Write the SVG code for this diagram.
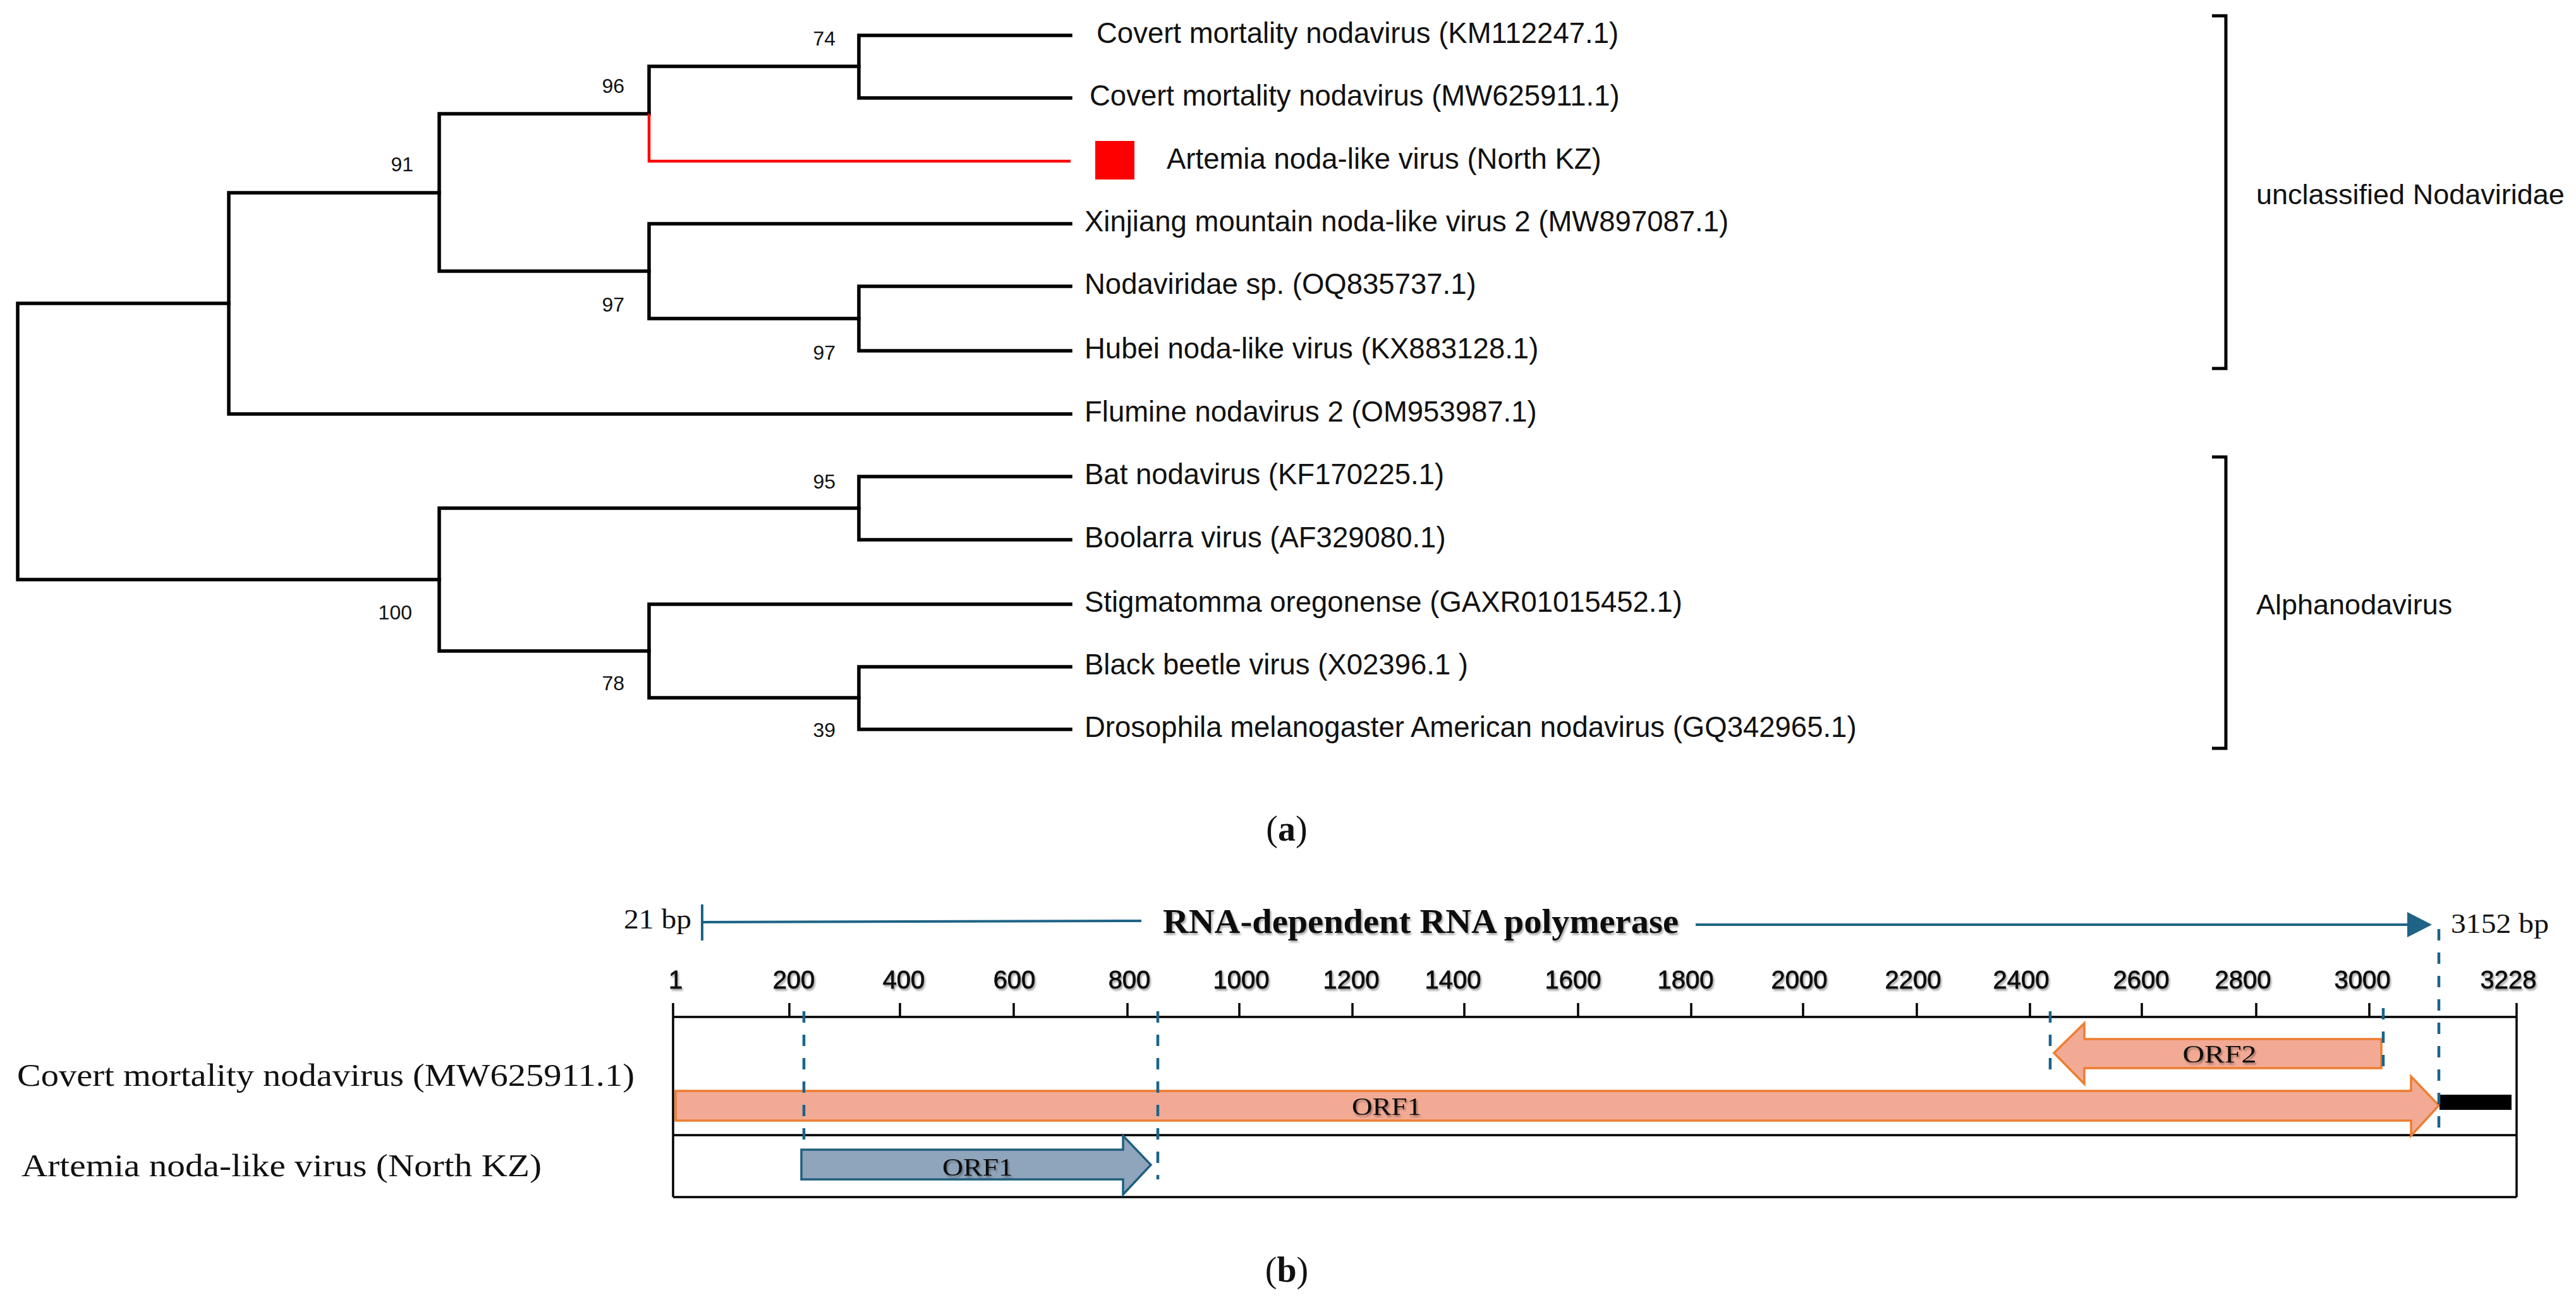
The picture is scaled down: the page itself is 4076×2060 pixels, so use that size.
<svg xmlns="http://www.w3.org/2000/svg" width="4076" height="2060" viewBox="0 0 4076 2060">
<style>
.tree{fill:none;stroke:#000;stroke-width:5.5;stroke-linecap:square}
.red{fill:none;stroke:#ff0000;stroke-width:4.5}
.leaf{font-family:"Liberation Sans",Arial,sans-serif;font-size:45.5px;fill:#111}
.boot{font-family:"Liberation Sans",Arial,sans-serif;font-size:32px;fill:#111;text-anchor:end}
.clade{font-family:"Liberation Sans",Arial,sans-serif;font-size:45px;fill:#111}
.bracket{fill:none;stroke:#000;stroke-width:5}
.serif{font-family:"Liberation Serif","Times New Roman",serif;fill:#111}
.num{font-family:"Liberation Sans",Arial,sans-serif;font-size:40px;fill:#111;text-anchor:middle;stroke:#111;stroke-width:0.8}
.axis{fill:none;stroke:#000;stroke-width:3.5}
.dash{fill:none;stroke:#1b6389;stroke-width:4.5;stroke-dasharray:18 19}
.orf-o{fill:#f2aa94;stroke:#ed7d31;stroke-width:3.5;stroke-linejoin:miter}
.orf-b{fill:#8fa5bb;stroke:#1f5f7f;stroke-width:3.5}
.blue{fill:none;stroke:#1f6386;stroke-width:4}
.orflbl{font-family:"Liberation Serif","Times New Roman",serif;font-size:40px;fill:#111;text-anchor:middle}
</style>
<defs>
<filter id="sh" x="-10%" y="-20%" width="130%" height="150%">
<feDropShadow dx="2" dy="3" stdDeviation="1.5" flood-color="#000" flood-opacity="0.35"/>
</filter>
</defs>
<rect width="4076" height="2060" fill="#fff"/>

<!-- Panel (a): tree connectors -->
<g id="tree-connectors">
<path class="tree" d="M28,480 V917 M28,480 H362 M28,917 H695"/>
<path class="tree" d="M362,305 V655 M362,305 H695 M362,655 H1694"/>
<path class="tree" d="M695,180 V429 M695,180 H1027 M695,429 H1027"/>
<path class="tree" d="M1027,105 V180 M1027,105 H1359"/>
<path class="red" d="M1027,180 V255 H1694"/>
<path class="tree" d="M1359,56 V155 M1359,56 H1694 M1359,155 H1694"/>
<path class="tree" d="M1027,354 V504 M1027,354 H1694 M1027,504 H1359"/>
<path class="tree" d="M1359,453 V555 M1359,453 H1694 M1359,555 H1694"/>
<path class="tree" d="M695,804 V1030 M695,804 H1359 M695,1030 H1027"/>
<path class="tree" d="M1359,754 V854 M1359,754 H1694 M1359,854 H1694"/>
<path class="tree" d="M1027,956 V1104 M1027,956 H1694 M1027,1104 H1359"/>
<path class="tree" d="M1359,1055 V1154 M1359,1055 H1694 M1359,1154 H1694"/>
</g>

<g id="bootstrap">
<text class="boot" x="1322" y="72">74</text>
<text class="boot" x="988" y="147">96</text>
<text class="boot" x="654" y="271">91</text>
<text class="boot" x="988" y="493">97</text>
<text class="boot" x="1322" y="569">97</text>
<text class="boot" x="1322" y="773">95</text>
<text class="boot" x="652" y="980">100</text>
<text class="boot" x="988" y="1092">78</text>
<text class="boot" x="1322" y="1166">39</text>
</g>

<g id="leaf-KM112247"><text class="leaf" x="1735" y="68">Covert mortality nodavirus (KM112247.1)</text></g>
<g id="leaf-MW625911"><text class="leaf" x="1724" y="167">Covert mortality nodavirus (MW625911.1)</text></g>
<g id="leaf-Artemia"><rect x="1733" y="223" width="62" height="61" fill="#ff0000"/><text class="leaf" x="1846" y="267">Artemia noda-like virus (North KZ)</text></g>
<g id="leaf-MW897087"><text class="leaf" x="1716" y="366">Xinjiang mountain noda-like virus 2 (MW897087.1)</text></g>
<g id="leaf-OQ835737"><text class="leaf" x="1716" y="465">Nodaviridae sp. (OQ835737.1)</text></g>
<g id="leaf-KX883128"><text class="leaf" x="1716" y="567">Hubei noda-like virus (KX883128.1)</text></g>
<g id="leaf-OM953987"><text class="leaf" x="1716" y="667">Flumine nodavirus 2 (OM953987.1)</text></g>
<g id="leaf-KF170225"><text class="leaf" x="1716" y="766">Bat nodavirus (KF170225.1)</text></g>
<g id="leaf-AF329080"><text class="leaf" x="1716" y="866">Boolarra virus (AF329080.1)</text></g>
<g id="leaf-GAXR01015452"><text class="leaf" x="1716" y="968">Stigmatomma oregonense (GAXR01015452.1)</text></g>
<g id="leaf-X02396"><text class="leaf" x="1716" y="1067">Black beetle virus (X02396.1 )</text></g>
<g id="leaf-GQ342965"><text class="leaf" x="1716" y="1166">Drosophila melanogaster American nodavirus (GQ342965.1)</text></g>

<g id="clade-unclassified">
<path class="bracket" d="M3500,25 H3522 V583 H3500"/>
<text class="clade" x="3570" y="323">unclassified Nodaviridae</text>
</g>
<g id="clade-alpha">
<path class="bracket" d="M3500,723 H3522 V1184 H3500"/>
<text class="clade" x="3570" y="972">Alphanodavirus</text>
</g>

<g id="label-a"><text class="serif" x="2036" y="1330" font-size="56" text-anchor="middle">(<tspan font-weight="bold">a</tspan>)</text></g>

<!-- Panel (b) -->
<g id="rdrp">
<line class="blue" x1="1111" y1="1431" x2="1111" y2="1488"/>
<path class="blue" d="M1111,1459 L1806,1457"/>
<path class="blue" d="M2683,1463 L3812,1463"/>
<polygon points="3809,1443 3848,1463 3809,1483" fill="#1f6386"/>
<text class="serif" x="987" y="1469" font-size="44" textLength="107" lengthAdjust="spacingAndGlyphs">21 bp</text>
<text class="serif" x="3878" y="1476" font-size="44" textLength="155" lengthAdjust="spacingAndGlyphs">3152 bp</text>
<text class="serif" x="1840" y="1476" font-size="54" font-weight="bold" textLength="816" lengthAdjust="spacingAndGlyphs" filter="url(#sh)">RNA-dependent RNA polymerase</text>
</g>

<g id="axis">
<path class="axis" d="M1065,1587 V1894 M3982,1587 V1894 M1065,1609 H3982 M1065,1796 H3982 M1065,1894 H3982"/>
<path class="axis" d="M1249,1587 V1609 M1424,1587 V1609 M1604,1587 V1609 M1784,1587 V1609 M1961,1587 V1609 M2140,1587 V1609 M2317,1587 V1609 M2497,1587 V1609 M2676,1587 V1609 M2853,1587 V1609 M3033,1587 V1609 M3212,1587 V1609 M3389,1587 V1609 M3570,1587 V1609 M3749,1587 V1609"/>
<g filter="url(#sh)">
<text class="num" x="1069" y="1564">1</text>
<text class="num" x="1256" y="1564">200</text>
<text class="num" x="1430" y="1564">400</text>
<text class="num" x="1605" y="1564">600</text>
<text class="num" x="1787" y="1564">800</text>
<text class="num" x="1964" y="1564">1000</text>
<text class="num" x="2138" y="1564">1200</text>
<text class="num" x="2299" y="1564">1400</text>
<text class="num" x="2489" y="1564">1600</text>
<text class="num" x="2667" y="1564">1800</text>
<text class="num" x="2847" y="1564">2000</text>
<text class="num" x="3027" y="1564">2200</text>
<text class="num" x="3198" y="1564">2400</text>
<text class="num" x="3388" y="1564">2600</text>
<text class="num" x="3549" y="1564">2800</text>
<text class="num" x="3738" y="1564">3000</text>
<text class="num" x="3969" y="1564">3228</text>
</g>
</g>

<g id="genome-labels">
<text class="serif" x="27" y="1718" font-size="50" textLength="977" lengthAdjust="spacingAndGlyphs">Covert mortality nodavirus (MW625911.1)</text>
<text class="serif" x="34" y="1861" font-size="50" textLength="823" lengthAdjust="spacingAndGlyphs">Artemia noda-like virus (North KZ)</text>
</g>

<g id="cmnv-orf1">
<polygon class="orf-o" points="1069,1726 3815,1726 3815,1703 3859,1749 3815,1797 3815,1773 1069,1773"/>
<text class="orflbl" x="2194" y="1764" textLength="110" lengthAdjust="spacingAndGlyphs" filter="url(#sh)">ORF1</text>
</g>
<g id="cmnv-utr"><rect x="3860" y="1732" width="114" height="24" fill="#000"/></g>
<g id="cmnv-orf2">
<polygon class="orf-o" points="3768,1644 3298,1644 3298,1619 3250,1666 3298,1715 3298,1690 3768,1690"/>
<text class="orflbl" x="3512" y="1681" textLength="117" lengthAdjust="spacingAndGlyphs" filter="url(#sh)">ORF2</text>
</g>
<g id="anlv-orf1">
<polygon class="orf-b" points="1268,1819 1777,1819 1777,1797 1821,1843 1777,1890 1777,1866 1268,1866"/>
<text class="orflbl" x="1547" y="1860" textLength="112" lengthAdjust="spacingAndGlyphs" filter="url(#sh)">ORF1</text>
</g>

<g id="dashes">
<line class="dash" x1="1272" y1="1600" x2="1272" y2="1805"/>
<line class="dash" x1="1832" y1="1600" x2="1832" y2="1866"/>
<line class="dash" x1="3244" y1="1600" x2="3244" y2="1695"/>
<line class="dash" x1="3771" y1="1595" x2="3771" y2="1690"/>
<line class="dash" x1="3859" y1="1470" x2="3859" y2="1798"/>
</g>

<g id="label-b"><text class="serif" x="2036" y="2028" font-size="56" text-anchor="middle">(<tspan font-weight="bold">b</tspan>)</text></g>
</svg>
